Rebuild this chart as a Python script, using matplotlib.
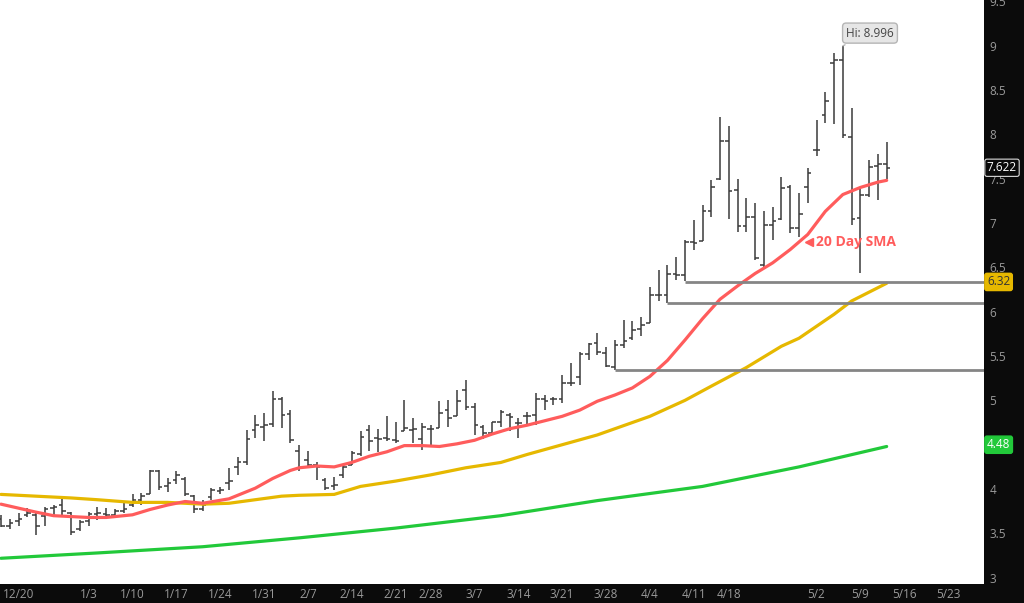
import numpy as np
import pandas as pd
import matplotlib
matplotlib.use('Agg')
import matplotlib.pyplot as plt
from matplotlib.transforms import blended_transform_factory

plt.rcParams['font.family'] = ['Open Sans', 'DejaVu Sans']

# trading days shown on the chart (exchange holidays dropped)
holidays = ['2021-12-24', '2021-12-31', '2022-02-21', '2022-04-15']
days = pd.bdate_range('2021-12-16', '2022-05-12')
days = days[~days.isin(pd.to_datetime(holidays))]
future = pd.bdate_range('2022-05-13', '2022-05-31')

opens = [3.66, 3.58, 3.64, 3.71, 3.71, 3.70, 3.79, 3.82, 3.73, 3.55,
         3.64, 3.72, 3.72, 3.71, 3.75, 3.82, 3.88, 3.95, 4.20, 4.03,
         4.10, 4.11, 3.92, 3.77, 3.91, 3.98, 4.07, 4.25, 4.31, 4.67,
         4.70, 4.73, 5.02, 4.85, 4.43, 4.33, 4.27, 4.10, 4.03, 4.16,
         4.27, 4.39, 4.67, 4.58, 4.58, 4.55, 4.66, 4.67, 4.56, 4.68,
         4.69, 4.89, 4.82, 5.12, 4.92, 4.70, 4.63, 4.76, 4.83, 4.74,
         4.82, 4.83, 5.01, 5.02, 5.02, 5.20, 5.26, 5.52, 5.65, 5.53,
         5.38, 5.62, 5.70, 5.81, 5.87, 6.19, 6.19, 6.43, 6.41, 6.78,
         6.80, 7.13, 7.50, 7.92, 7.37, 6.96, 7.07, 6.53, 6.98, 7.05,
         7.40, 6.94, 7.41, 7.82, 8.22, 8.80, 8.84, 7.97, 7.06, 7.32,
         7.64, 7.66]
highs = [3.71, 3.66, 3.73, 3.79, 3.74, 3.80, 3.82, 3.91, 3.74, 3.65,
         3.74, 3.80, 3.79, 3.77, 3.84, 3.94, 3.96, 4.22, 4.21, 4.13,
         4.20, 4.14, 3.93, 3.88, 4.01, 4.02, 4.24, 4.36, 4.67, 4.84,
         4.86, 5.10, 5.04, 4.89, 4.50, 4.43, 4.30, 4.13, 4.14, 4.27,
         4.43, 4.65, 4.72, 4.68, 4.82, 4.76, 5.00, 4.80, 4.75, 4.72,
         4.99, 5.00, 5.12, 5.23, 4.97, 4.72, 4.76, 4.89, 4.86, 4.80,
         4.87, 5.08, 5.06, 5.04, 5.29, 5.42, 5.55, 5.65, 5.76, 5.60,
         5.68, 5.91, 5.89, 5.94, 6.28, 6.47, 6.53, 6.62, 6.81, 7.03,
         7.20, 7.48, 8.19, 8.09, 7.50, 7.28, 7.22, 7.13, 7.18, 7.52,
         7.43, 7.34, 7.62, 8.16, 8.48, 8.92, 8.996, 8.30, 7.40, 7.71,
         7.78, 7.91]
lows = [3.57, 3.55, 3.58, 3.68, 3.48, 3.58, 3.70, 3.71, 3.48, 3.53,
        3.58, 3.65, 3.68, 3.69, 3.73, 3.80, 3.82, 3.95, 3.99, 3.97,
        4.06, 3.92, 3.73, 3.75, 3.88, 3.94, 3.99, 4.16, 4.27, 4.58,
        4.54, 4.70, 4.69, 4.52, 4.20, 4.26, 4.10, 3.99, 3.99, 4.12,
        4.27, 4.37, 4.43, 4.42, 4.54, 4.52, 4.66, 4.52, 4.44, 4.47,
        4.69, 4.70, 4.82, 4.89, 4.61, 4.57, 4.62, 4.70, 4.65, 4.58,
        4.72, 4.72, 4.89, 4.95, 4.97, 5.16, 5.17, 5.46, 5.51, 5.38,
        5.34, 5.59, 5.68, 5.72, 5.87, 6.12, 6.10, 6.36, 6.34, 6.70,
        6.80, 7.07, 7.48, 7.05, 6.90, 6.90, 6.58, 6.49, 6.81, 7.03,
        6.89, 6.84, 7.23, 7.75, 8.13, 8.12, 7.96, 6.98, 6.44, 7.29,
        7.26, 7.50]
closes = [3.58, 3.62, 3.66, 3.73, 3.58, 3.78, 3.80, 3.75, 3.52, 3.63,
          3.72, 3.73, 3.71, 3.75, 3.77, 3.88, 3.92, 4.20, 4.02, 4.07,
          4.16, 3.94, 3.77, 3.82, 3.99, 3.99, 4.09, 4.31, 4.56, 4.72,
          4.72, 5.02, 4.84, 4.55, 4.24, 4.27, 4.25, 4.01, 4.05, 4.25,
          4.41, 4.59, 4.54, 4.57, 4.56, 4.54, 4.69, 4.68, 4.70, 4.68,
          4.86, 4.80, 4.99, 4.92, 4.72, 4.63, 4.76, 4.87, 4.81, 4.75,
          4.82, 5.02, 4.99, 5.02, 5.20, 5.20, 5.52, 5.64, 5.55, 5.39,
          5.62, 5.67, 5.79, 5.85, 6.19, 6.19, 6.43, 6.41, 6.78, 6.77,
          7.13, 7.41, 7.92, 7.36, 6.96, 7.07, 6.60, 6.98, 7.02, 7.39,
          6.94, 7.10, 7.56, 7.82, 8.38, 8.84, 7.99, 7.05, 7.32, 7.63,
          7.66, 7.622]

# moving averages (bar index, value)
sma20_idx = [0, 4, 6, 8, 10, 12, 15, 17, 19, 21, 23, 26, 29, 31, 33, 34, 36,
             38, 40, 42, 44, 46, 48, 50, 52, 54, 56, 58, 60, 62, 64, 66, 68,
             70, 72, 74, 76, 78, 80, 82, 84, 86, 88, 90, 92, 94, 96, 98, 100,
             101]
sma20 = [3.83, 3.74, 3.70, 3.69, 3.68, 3.68, 3.71, 3.77, 3.82, 3.86, 3.84,
         3.89, 4.01, 4.12, 4.21, 4.24, 4.26, 4.25, 4.30, 4.37, 4.42, 4.49,
         4.49, 4.48, 4.51, 4.55, 4.62, 4.68, 4.72, 4.77, 4.82, 4.89, 4.99,
         5.06, 5.14, 5.27, 5.45, 5.68, 5.92, 6.14, 6.29, 6.43, 6.55, 6.70,
         6.87, 7.13, 7.32, 7.40, 7.46, 7.48]
sma50_idx = [0, 4, 8, 11, 15, 19, 23, 26, 32, 34, 38, 41, 45, 49, 53, 57,
             60, 64, 68, 72, 74, 78, 81, 85, 89, 91, 95, 97, 99, 101]
sma50 = [3.94, 3.92, 3.90, 3.88, 3.85, 3.85, 3.83, 3.84, 3.92, 3.93, 3.94,
         4.03, 4.09, 4.16, 4.24, 4.30, 4.39, 4.50, 4.61, 4.75, 4.82, 5.00,
         5.16, 5.37, 5.61, 5.70, 5.97, 6.12, 6.22, 6.32]
sma200_idx = [0, 11, 23, 34, 45, 57, 68, 80, 91, 101]
sma200 = [3.22, 3.28, 3.35, 3.45, 3.56, 3.70, 3.87, 4.03, 4.25, 4.48]

# support lines: (start bar, level)
support_start = [78, 76, 70]
support_level = [6.335, 6.10, 5.34]

week_labels = ['2021-12-20', '2022-01-03', '2022-01-10', '2022-01-17',
               '2022-01-24', '2022-01-31', '2022-02-07', '2022-02-14',
               '2022-02-21', '2022-02-28', '2022-03-07', '2022-03-14',
               '2022-03-21', '2022-03-28', '2022-04-04', '2022-04-11',
               '2022-04-18', '2022-05-02', '2022-05-09', '2022-05-16',
               '2022-05-23']

hi_idx, hi_val = 96, 8.996

BG = '#0b0b0b'
BAR = '#3a3a3a'
RED = '#ff5c5c'
YEL = '#e6b800'
GRN = '#22c93a'

fig = plt.figure(figsize=(10.24, 6.03), dpi=100, facecolor=BG)
ax = fig.add_axes([0, 19 / 603, 984 / 1024, 584 / 603])
ax.set_facecolor('white')

x = np.arange(len(days))
ax.vlines(x, lows, highs, color=BAR, lw=1.1)
ax.hlines(opens, x - 0.42, x, color=BAR, lw=1.1)
ax.hlines(closes, x, x + 0.42, color=BAR, lw=1.1)

ax.plot(sma200_idx, sma200, color=GRN, lw=2.3, solid_capstyle='round')
ax.plot(sma50_idx, sma50, color=YEL, lw=2.3, solid_capstyle='round')
ax.plot(sma20_idx, sma20, color=RED, lw=2.3, solid_capstyle='round')

xmax = 112.1
ax.hlines(support_level, support_start, xmax, color='#858585', lw=2)

ax.set_xlim(-0.11, xmax)
ax.set_ylim(2.93, 9.513)

# x ticks: first trading day of each labelled week
all_days = days.append(future)
wk = pd.to_datetime(week_labels)
ax.set_xticks(all_days.searchsorted(wk))
ax.set_xticklabels([f'{d.month}/{d.day}' for d in wk])
ax.yaxis.tick_right()
yt = np.arange(3, 10, 0.5)
ax.set_yticks(yt)
# 4.5 sits under the 200-day value tag, so it is not printed
ax.set_yticklabels(['' if v == 4.5 else f'{v:g}' for v in yt])
ax.tick_params(axis='both', length=0, colors='#9a9a9a', labelsize=8.5)
ax.tick_params(axis='x', pad=3)
ax.tick_params(axis='y', pad=4)
for s in ax.spines.values():
    s.set_visible(False)

# annotations
ax.annotate(f'Hi: {hi_val}', xy=(hi_idx, hi_val), xytext=(99.1, 9.14),
            ha='center', va='center', fontsize=8.5, color='#444444',
            bbox=dict(boxstyle='round,pad=0.3', fc='#e6e6e6', ec='#b5b5b5'),
            arrowprops=dict(arrowstyle='-', color='#b5b5b5', lw=1))

ax.plot([92.2], [6.79], marker='<', color=RED, ms=6, mec=RED)
ax.text(92.9, 6.79, '20 Day SMA', color=RED, fontsize=10,
        fontweight='bold', ha='left', va='center')

tr = blended_transform_factory(ax.transAxes, ax.transData)
ax.text(1.003, 7.622, '7.622', transform=tr, ha='left', va='center',
        fontsize=8.5, color='white', clip_on=False,
        bbox=dict(boxstyle='round,pad=0.18', fc=BG, ec='#dddddd', lw=0.8))
ax.text(1.003, 6.335, '6.32', transform=tr, ha='left', va='center',
        fontsize=8.5, color='#333333', clip_on=False,
        bbox=dict(boxstyle='round,pad=0.18', fc=YEL, ec=YEL))
ax.text(1.003, 4.50, '4.48', transform=tr, ha='left', va='center',
        fontsize=8.5, color='white', clip_on=False,
        bbox=dict(boxstyle='round,pad=0.18', fc=GRN, ec=GRN))

fig.savefig('out.png', dpi=100, facecolor=BG)
